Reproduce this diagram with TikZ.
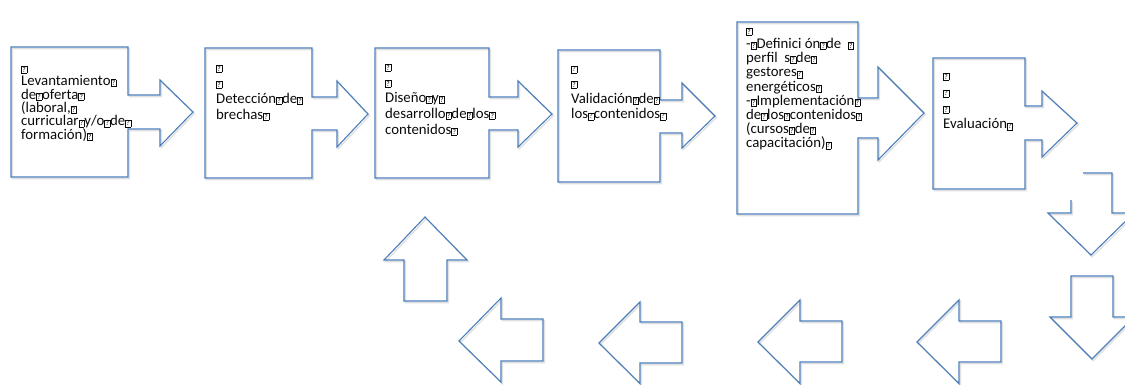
\documentclass[tikz,border=0pt]{standalone}
\usepackage{fontspec}
\setmainfont{Carlito}
\definecolor{shapeblue}{RGB}{74,126,187}
\definecolor{txtgray}{RGB}{10,10,10}
\newcommand\qq{{\fboxsep=0.7pt\fboxrule=0.45pt\fbox{\fontsize{7.5}{7.5}\selectfont ?}}}
\newcommand\btxt[2]{\parbox[t]{160pt}{\fontsize{14.8}{#1}\selectfont\raggedright\color{txtgray}#2}}
\newcommand\rcallout[9]{%
  (#1,#2) -- (#3,#2) -- (#3,#5) -- (#7,#5) -- (#7,#8) -- (\tipx,\tipy) -- (#7,#9) -- (#7,#6) -- (#3,#6) -- (#3,#4) -- (#1,#4) -- cycle}
\tikzset{
  shp/.style={draw=shapeblue, line width=1.1pt, line join=miter},
  shd/.style={draw=black!12, line width=1.4pt, shift={(1.3,1.6)}},
  lbl/.style={anchor=base west, inner sep=0pt}
}
\begin{document}
\begin{tikzpicture}[x=1pt,y=-1pt]
\useasboundingbox (0,0) rectangle (1125,384);
\clip (0,0) rectangle (1125,384);
\foreach \st in {shd,shp}{
  \def\tipx{193}\def\tipy{112}
  \draw[\st] \rcallout{11}{47}{128}{177}{95}{129}{160}{80}{146};
  \def\tipx{368}\def\tipy{114}
  \draw[\st] \rcallout{205}{48}{312}{178}{97}{130}{337}{81}{147};
  \def\tipx{552}\def\tipy{114}
  \draw[\st] \rcallout{375}{48}{489}{178}{97}{130}{518}{81}{147};
  \def\tipx{715}\def\tipy{116}
  \draw[\st] \rcallout{558}{50}{660}{182}{100}{133}{682}{83}{148};
  \def\tipx{924}\def\tipy{113}
  \draw[\st] \rcallout{737}{22}{858}{214}{98}{138}{878}{67}{160};
  \def\tipx{1077}\def\tipy{123}
  \draw[\st] \rcallout{933}{58}{1025}{189}{106}{140}{1042}{91}{157};
  % down arrow 1 (partly hidden)
  \draw[\st] (1083,173) -- (1112,173) -- (1112,213) -- (1134,213) -- (1091,255) -- (1048,213) -- (1071,213) -- (1071,200);
  % down arrow 2
  \draw[\st] (1071,276) -- (1113,276) -- (1113,317) -- (1134,317) -- (1092,359) -- (1050,317) -- (1071,317) -- cycle;
  % up arrow
  \draw[\st] (425,217) -- (467,260) -- (447,260) -- (447,301) -- (404,301) -- (404,260) -- (384,260) -- cycle;
  % left arrows
  \draw[\st] (459,341) -- (501,298) -- (501,319) -- (543,319) -- (543,361) -- (501,361) -- (501,382) -- cycle;
  \draw[\st] (599,343) -- (640,302) -- (640,322) -- (682,322) -- (682,363) -- (640,363) -- (640,383.5) -- cycle;
  \draw[\st] (758,342) -- (800,300) -- (800,321) -- (842,321) -- (842,362) -- (800,362) -- (800,383.5) -- cycle;
  \draw[\st] (917,342) -- (959,300) -- (959,321) -- (1001,321) -- (1001,362) -- (959,362) -- (959,383.5) -- cycle;
}
% ---- texts
\node[lbl] (t1) at (21,66) {\btxt{13.4}{\qq\\Levantamiento\qq\\de\qq oferta\qq\\(laboral,\qq\\curricular\qq y/o\qq de\qq\\formación)\qq}};
\node[lbl] (t2) at (216,65) {\btxt{16}{\qq\\\qq\\Detección\qq de\qq\\brechas\qq}};
\node[lbl] (t3) at (385,64) {\btxt{16}{\qq\\\qq\\Diseño\qq y\qq\\desarrollo\qq de\qq los\qq\\contenidos\qq}};
\node[lbl] (t4) at (571,65.5) {\btxt{15.7}{\qq\\\qq\\Validación\qq de\qq\\los\qq contenidos\qq}};
\node[lbl] (t5) at (746,28) {\btxt{14.2}{\qq\\-\qq Definici ón\qq de\ \ \qq\\perfil\ \ s\qq de\qq\\gestores\qq\\energéticos\qq\\-\qq Implementación\qq\\de\qq los\qq contenidos\qq\\(cursos\qq de\qq\\capacitación)\qq}};
\node[lbl] (t6) at (943,73) {\btxt{16.5}{\qq\\\qq\\\qq\\Evaluación\qq}};
\end{tikzpicture}
\end{document}
